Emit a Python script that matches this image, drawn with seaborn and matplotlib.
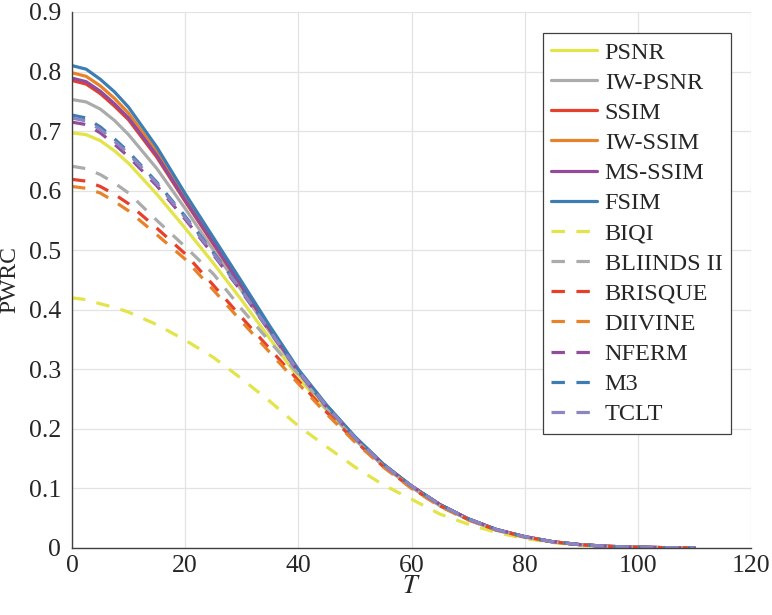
import matplotlib
matplotlib.use("Agg")
import matplotlib.pyplot as plt
import seaborn as sns
import pandas as pd

# ---------------- data ----------------
T = [0, 2.5, 5, 7.5, 10, 15, 20, 25, 30, 35, 40, 45, 50, 55, 60, 65, 70, 75, 80, 85, 90, 95, 100, 105, 110]

PSNR    = [0.697, 0.694, 0.684, 0.667, 0.646, 0.594, 0.537, 0.478, 0.416, 0.351, 0.286, 0.231, 0.182, 0.138, 0.102, 0.071, 0.048, 0.030, 0.018, 0.0100, 0.0052, 0.0026, 0.0012, 0.0005, 0.0002]
IW_PSNR = [0.753, 0.749, 0.737, 0.718, 0.694, 0.637, 0.570, 0.500, 0.432, 0.362, 0.294, 0.236, 0.185, 0.140, 0.103, 0.072, 0.048, 0.030, 0.019, 0.0102, 0.0053, 0.0026, 0.0012, 0.0005, 0.0002]
SSIM    = [0.785, 0.779, 0.763, 0.742, 0.719, 0.656, 0.582, 0.510, 0.439, 0.366, 0.297, 0.238, 0.186, 0.140, 0.104, 0.073, 0.049, 0.031, 0.019, 0.0104, 0.0054, 0.0027, 0.0013, 0.0006, 0.0002]
IW_SSIM = [0.798, 0.792, 0.776, 0.755, 0.730, 0.665, 0.589, 0.516, 0.443, 0.369, 0.298, 0.239, 0.186, 0.141, 0.104, 0.073, 0.049, 0.031, 0.019, 0.0104, 0.0054, 0.0027, 0.0013, 0.0006, 0.0002]
MS_SSIM = [0.789, 0.783, 0.767, 0.746, 0.722, 0.659, 0.584, 0.512, 0.440, 0.367, 0.297, 0.238, 0.186, 0.140, 0.104, 0.073, 0.049, 0.031, 0.019, 0.0104, 0.0054, 0.0027, 0.0013, 0.0006, 0.0002]
FSIM    = [0.810, 0.804, 0.787, 0.766, 0.740, 0.673, 0.595, 0.521, 0.447, 0.372, 0.300, 0.240, 0.187, 0.141, 0.104, 0.073, 0.049, 0.031, 0.019, 0.0105, 0.0055, 0.0027, 0.0013, 0.0006, 0.0002]
BIQI    = [0.420, 0.417, 0.410, 0.404, 0.396, 0.375, 0.349, 0.320, 0.284, 0.246, 0.205, 0.170, 0.136, 0.106, 0.082, 0.057, 0.040, 0.026, 0.016, 0.0090, 0.0045, 0.0022, 0.0010, 0.0005, 0.0002]
BLIINDS = [0.641, 0.637, 0.627, 0.613, 0.596, 0.550, 0.506, 0.460, 0.401, 0.346, 0.292, 0.233, 0.182, 0.138, 0.102, 0.071, 0.048, 0.030, 0.019, 0.0102, 0.0053, 0.0026, 0.0012, 0.0005, 0.0002]
BRISQUE = [0.619, 0.616, 0.607, 0.594, 0.578, 0.537, 0.494, 0.441, 0.387, 0.334, 0.281, 0.228, 0.180, 0.137, 0.101, 0.071, 0.048, 0.030, 0.019, 0.0102, 0.0053, 0.0026, 0.0012, 0.0005, 0.0002]
DIIVINE = [0.607, 0.604, 0.596, 0.582, 0.566, 0.526, 0.485, 0.433, 0.380, 0.328, 0.276, 0.225, 0.178, 0.136, 0.100, 0.070, 0.047, 0.030, 0.018, 0.0100, 0.0052, 0.0026, 0.0012, 0.0005, 0.0002]
NFERM   = [0.715, 0.711, 0.697, 0.678, 0.657, 0.608, 0.552, 0.492, 0.430, 0.363, 0.296, 0.237, 0.185, 0.140, 0.104, 0.073, 0.049, 0.031, 0.019, 0.0104, 0.0054, 0.0027, 0.0013, 0.0006, 0.0002]
M3      = [0.727, 0.722, 0.707, 0.687, 0.665, 0.614, 0.557, 0.496, 0.433, 0.365, 0.297, 0.238, 0.186, 0.141, 0.104, 0.073, 0.049, 0.031, 0.019, 0.0104, 0.0054, 0.0027, 0.0013, 0.0006, 0.0002]
TCLT    = [0.722, 0.717, 0.703, 0.683, 0.662, 0.612, 0.555, 0.494, 0.432, 0.364, 0.297, 0.238, 0.185, 0.140, 0.104, 0.073, 0.049, 0.031, 0.019, 0.0104, 0.0054, 0.0027, 0.0013, 0.0006, 0.0002]

names = ["PSNR", "IW-PSNR", "SSIM", "IW-SSIM", "MS-SSIM", "FSIM",
         "BIQI", "BLIINDS II", "BRISQUE", "DIIVINE", "NFERM", "M3", "TCLT"]
series = [PSNR, IW_PSNR, SSIM, IW_SSIM, MS_SSIM, FSIM,
          BIQI, BLIINDS, BRISQUE, DIIVINE, NFERM, M3, TCLT]

x_ticks = [0, 20, 40, 60, 80, 100, 120]
y_ticks = [0, 0.1, 0.2, 0.3, 0.4, 0.5, 0.6, 0.7, 0.8, 0.9]

# ---------------- style ----------------
YEL, GRY, RED, ORA, PUR, BLU, LAV = ("#E3E34A", "#ABABAB", "#E63F2A", "#E8822A",
                                    "#934C9B", "#3D7DB4", "#8B86C3")
colors = [YEL, GRY, RED, ORA, PUR, BLU, YEL, GRY, RED, ORA, PUR, BLU, LAV]
solid = [True] * 6 + [False] * 7

sns.set_theme(style="white")
plt.rcParams["font.family"] = ["Liberation Serif", "DejaVu Serif"]
plt.rcParams["mathtext.fontset"] = "stix"
TXT = "#262626"

fig = plt.figure(figsize=(7.72, 6.15), dpi=100)
ax = fig.add_axes([72 / 772, 1 - 548 / 615, (751 - 72) / 772, (548 - 12) / 615])

for name, vals, c, s in zip(names, series, colors, solid):
    df = pd.DataFrame({"T": T, "PWRC": vals})
    ls = "-" if s else (0, (4.2, 3.6))
    sns.lineplot(data=df, x="T", y="PWRC", ax=ax, color=c, linewidth=2.3,
                 linestyle=ls, label=name)

ax.set_xlim(0, 120)
ax.set_ylim(0, 0.9)
ax.set_xticks(x_ticks)
ax.set_yticks(y_ticks)
ax.set_xticklabels([str(v) for v in x_ticks])
ax.set_yticklabels(["0"] + [f"{v:.1f}" for v in y_ticks[1:]])
ax.grid(True, color="#e3e3e3", linewidth=0.9)
ax.set_axisbelow(True)
for side in ["top", "right"]:
    ax.spines[side].set_visible(False)
for side in ["left", "bottom"]:
    ax.spines[side].set_color("#404040")
    ax.spines[side].set_linewidth(1.0)
ax.tick_params(axis="both", direction="in", length=6, width=0.9, colors="#404040",
               labelsize=18.5, labelcolor=TXT)
ax.tick_params(axis="x", pad=5)
ax.tick_params(axis="y", pad=8)
ax.set_xlabel("$T$", fontsize=19, color=TXT, labelpad=-1)
ax.set_ylabel("PWRC", fontsize=17, color=TXT, labelpad=6)

leg = ax.legend(loc="upper right", bbox_to_anchor=(731 / 772, 1 - 33 / 615),
                bbox_transform=fig.transFigure, fontsize=17.5, frameon=True,
                fancybox=False, edgecolor="#404040", framealpha=1,
                handlelength=1.9, handletextpad=0.3, labelspacing=0.335,
                borderpad=0.35, borderaxespad=0)
leg.get_frame().set_linewidth(0.9)
for t in leg.get_texts():
    t.set_color(TXT)

fig.savefig("out.png", dpi=100)
